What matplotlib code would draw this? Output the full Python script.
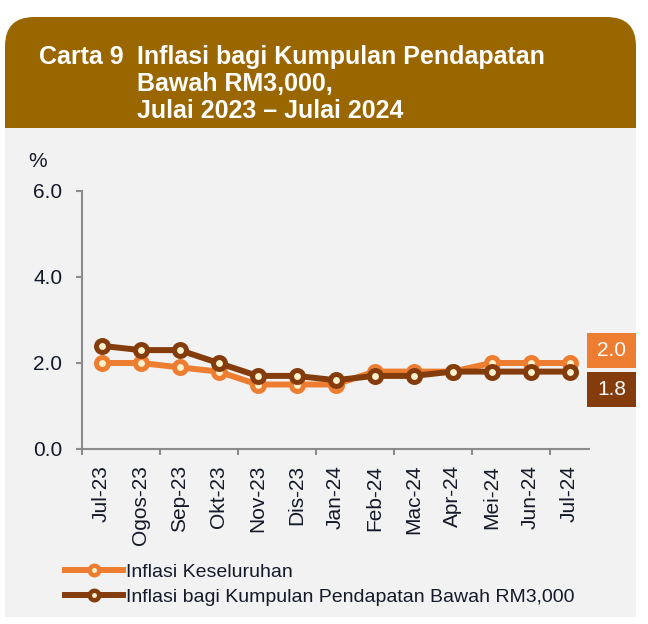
import matplotlib.pyplot as plt
from matplotlib.patches import FancyBboxPatch, Rectangle

months = ["Jul-23", "Ogos-23", "Sep-23", "Okt-23", "Nov-23", "Dis-23", "Jan-24",
          "Feb-24", "Mac-24", "Apr-24", "Mei-24", "Jun-24", "Jul-24"]
keseluruhan = [2.0, 2.0, 1.9, 1.8, 1.5, 1.5, 1.5, 1.8, 1.8, 1.8, 2.0, 2.0, 2.0]
bawah_rm3000 = [2.4, 2.3, 2.3, 2.0, 1.7, 1.7, 1.6, 1.7, 1.7, 1.8, 1.8, 1.8, 1.8]
yticks = [0.0, 2.0, 4.0, 6.0]
labels = ["Inflasi Keseluruhan", "Inflasi bagi Kumpulan Pendapatan Bawah RM3,000"]

ORANGE = "#ED7D31"
BROWN = "#843C0C"
CREAM = "#FFF2CC"
HEADER = "#996600"
PANEL = "#F2F2F2"
TXT = "#141a2a"

plt.rcParams["font.family"] = ["Liberation Sans", "DejaVu Sans"]

W, H = 648, 624
fig = plt.figure(figsize=(W / 100, H / 100), dpi=100)


def px(x, y):
    return x / W, 1 - y / H


# header with rounded top, grey panel below covers the lower corners
hx, hy = px(5, 160)
fig.patches.append(FancyBboxPatch((hx, hy), 631 / W, 143 / H,
                                  boxstyle="round,pad=0,rounding_size=0.045",
                                  transform=fig.transFigure, facecolor=HEADER,
                                  edgecolor="none", mutation_aspect=W / H, zorder=-2))
gx, gy = px(5, 617)
fig.patches.append(Rectangle((gx, gy), 631 / W, 489 / H, transform=fig.transFigure,
                             facecolor=PANEL, edgecolor="none", zorder=-1))

fig.text(*px(39, 64), "Carta 9", color="white", fontsize=18, fontweight="bold", va="baseline")
title_lines = ["Inflasi bagi Kumpulan Pendapatan", "Bawah RM3,000,", "Julai 2023 \u2013 Julai 2024"]
for i, line in enumerate(title_lines):
    fig.text(*px(137, 64 + 27 * i), line, color="white", fontsize=18,
             fontweight="bold", va="baseline")

fig.text(*px(28, 167), "%", color=TXT, fontsize=15, va="baseline")

ax = fig.add_axes([82 / W, 175 / H, 507 / W, 258 / H])
ax.set_facecolor("none")
ax.set_zorder(2)

x = list(range(len(months)))
l1, = ax.plot(x, keseluruhan, color=ORANGE, lw=4.3, marker="o", ms=8.6, mew=3.6,
              mfc=CREAM, mec=ORANGE, zorder=3, clip_on=False)
l2, = ax.plot(x, bawah_rm3000, color=BROWN, lw=4.3, marker="o", ms=8.6, mew=3.6,
              mfc=CREAM, mec=BROWN, zorder=4, clip_on=False)

ax.set_xlim(-0.5, len(months) - 0.5)
ax.set_ylim(0, 6)
ax.set_yticks(yticks)
ax.set_yticklabels([f"{v:.1f}" for v in yticks])
ax.set_xticks([i - 0.5 for i in range(0, len(months), 2)])
ax.set_xticklabels([])
ax.set_xticks(x, minor=True)
ax.set_xticklabels(months, minor=True, rotation=90)

for s in ["top", "right"]:
    ax.spines[s].set_visible(False)
for s in ["left", "bottom"]:
    ax.spines[s].set_color("#8c8c8c")
    ax.spines[s].set_linewidth(1.5)

ax.tick_params(axis="y", direction="out", length=4.3, width=1.5, color="#8c8c8c",
               pad=10, labelsize=15, labelcolor=TXT)
ax.tick_params(axis="x", which="major", direction="out", length=4.3, width=1.5,
               color="#8c8c8c")
ax.tick_params(axis="x", which="minor", length=0, pad=11.5, labelsize=15, labelcolor=TXT)

# end value boxes
boxes = [(keseluruhan[-1], ORANGE, 333), (bawah_rm3000[-1], BROWN, 372)]
for val, col, top in boxes:
    bx, by = px(587, top + 35)
    fig.patches.append(Rectangle((bx, by), 49 / W, 35 / H, transform=fig.transFigure,
                                 facecolor=col, edgecolor="none"))
    fig.text(*px(611.5, top + 17.5), f"{val:.1f}", color="white", fontsize=15,
             ha="center", va="center")

leg = fig.legend([l1, l2], labels, loc="upper left", bbox_to_anchor=px(65, 563),
                 frameon=False, fontsize=14, handlelength=3.0, handletextpad=0.15,
                 labelspacing=0.38, borderpad=0, borderaxespad=0, markerscale=1.0,
                 labelcolor=TXT)
for h in leg.legend_handles:
    h.set_markersize(6.8)
    h.set_markeredgewidth(3.2)

fig.savefig("out.png", dpi=100)
